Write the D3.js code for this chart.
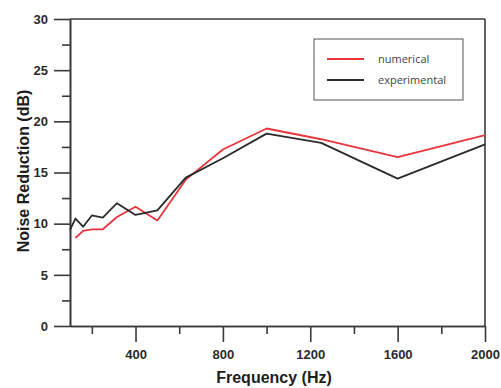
<!DOCTYPE html>
<html>
<head>
<meta charset="utf-8">
<script src="https://cdn.jsdelivr.net/npm/d3@7"></script>
<style>
  body { margin: 0; background: #fff; }
  svg { display: block; font-family: "Liberation Sans", Arial, sans-serif; }
</style>
</head>
<body>
<svg id="chart"></svg>
<script>
const width = 501;
const height = 388;

// 1/3 octave band centre frequencies (Hz)
const frequency = [100, 125, 160, 200, 250, 315, 400, 500, 630, 800, 1000, 1250, 1600, 2000];
const numerical = [null, 8.6, 9.3, 9.45, 9.45, 10.65, 11.65, 10.3, 14.3, 17.25, 19.3, 18.25, 16.5, 18.65];
const experimental = [9.4, 10.5, 9.7, 10.8, 10.6, 12.0, 10.85, 11.3, 14.5, 16.4, 18.8, 17.9, 14.4, 17.75];
const xMajorTicks = [400, 800, 1200, 1600, 2000];
const xMinorTicks = [200, 600, 1000, 1400, 1800];
const yMajorTicks = [0, 5, 10, 15, 20, 25, 30];
const yMinorTicks = [2.5, 7.5, 12.5, 17.5, 22.5, 27.5];
const seriesNames = ['numerical', 'experimental'];
const seriesColors = ['#e8353d', '#2b2b2b'];

const svg = d3.select('#chart')
  .attr('width', width)
  .attr('height', height);

const margin = { left: 70, right: 16, top: 19, bottom: 62 };
const x = d3.scaleLinear().domain([100, 2000]).range([margin.left, width - margin.right]);
const y = d3.scaleLinear().domain([0, 30]).range([height - margin.bottom, margin.top]);

const axisColor = '#3a3a3a';

// bottom axis, major + minor ticks
svg.append('g')
  .attr('transform', `translate(0, ${y(0)})`)
  .call(d3.axisBottom(x).tickValues(xMajorTicks).tickFormat(d3.format('d'))
    .tickSize(16).tickSizeOuter(0).tickPadding(8));
svg.append('g')
  .attr('transform', `translate(0, ${y(0)})`)
  .call(d3.axisBottom(x).tickValues(xMinorTicks).tickSize(8).tickSizeOuter(0).tickFormat(''));

// left axis, major + minor ticks
svg.append('g')
  .attr('transform', `translate(${x(100)}, 0)`)
  .call(d3.axisLeft(y).tickValues(yMajorTicks).tickSize(16).tickSizeOuter(0).tickPadding(6));
svg.append('g')
  .attr('transform', `translate(${x(100)}, 0)`)
  .call(d3.axisLeft(y).tickValues(yMinorTicks).tickSize(8).tickSizeOuter(0).tickFormat(''));

// top and right frame
svg.append('line')
  .attr('x1', x(100)).attr('x2', x(2000))
  .attr('y1', y(30)).attr('y2', y(30));
svg.append('line')
  .attr('x1', x(2000)).attr('x2', x(2000))
  .attr('y1', y(30)).attr('y2', y(0));

svg.selectAll('.domain, .tick line, line')
  .attr('stroke', axisColor)
  .attr('stroke-width', 1.6);
svg.selectAll('.tick text')
  .attr('fill', '#2a2a2a')
  .attr('font-size', 13)
  .attr('font-weight', 'bold');

// data lines
const series = [numerical, experimental];
const line = d3.line()
  .defined(d => d[1] !== null)
  .x(d => x(d[0]))
  .y(d => y(d[1]));

series.forEach((vals, i) => {
  svg.append('path')
    .datum(frequency.map((f, j) => [f, vals[j]]))
    .attr('fill', 'none')
    .attr('stroke', seriesColors[i])
    .attr('stroke-width', 1.8)
    .attr('stroke-linejoin', 'round')
    .attr('d', line);
});

// legend
const legend = svg.append('g').attr('transform', 'translate(314, 39)');
legend.append('rect')
  .attr('width', 149)
  .attr('height', 61)
  .attr('fill', '#fff')
  .attr('stroke', '#555')
  .attr('stroke-width', 1);
seriesNames.forEach((name, i) => {
  legend.append('line')
    .attr('x1', 13).attr('x2', 50)
    .attr('y1', 20 + i * 21).attr('y2', 20 + i * 21)
    .attr('stroke', seriesColors[i])
    .attr('stroke-width', 2.2);
  legend.append('text')
    .attr('x', 64)
    .attr('y', 20 + i * 21)
    .attr('dy', '0.35em')
    .attr('font-size', 11)
    .attr('font-family', '"Open Sans", sans-serif')
    .attr('fill', '#444')
    .text(name);
});

// axis titles
svg.append('text')
  .attr('x', 274)
  .attr('y', 383)
  .attr('text-anchor', 'middle')
  .attr('font-size', 16)
  .attr('font-weight', 'bold')
  .attr('fill', '#1e1e1e')
  .text('Frequency (Hz)');

svg.append('text')
  .attr('transform', 'translate(29, 171) rotate(-90)')
  .attr('text-anchor', 'middle')
  .attr('font-size', 16)
  .attr('font-weight', 'bold')
  .attr('fill', '#1e1e1e')
  .text('Noise Reduction (dB)');
</script>
</body>
</html>
